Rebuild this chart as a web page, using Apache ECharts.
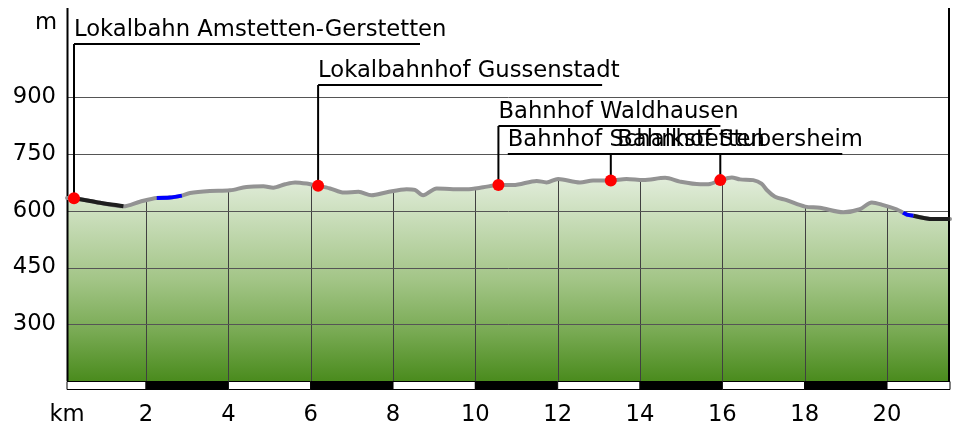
<!DOCTYPE html>
<html>
<head>
<meta charset="utf-8">
<title>Höhenprofil Lokalbahn Amstetten-Gerstetten</title>
<script src="https://cdn.jsdelivr.net/npm/echarts@6/dist/echarts.min.js"></script>
<style>
  html, body { margin: 0; padding: 0; background: #fff; }
  #chart { width: 953px; height: 428px; }
</style>
</head>
<body>
<div id="chart"></div>
<script>
// height profile: distance in km, height in m
const profileKm = [0.08, 0.25, 0.64, 0.88, 1.45, 1.85, 2.26, 2.58, 2.87, 3.07, 3.55, 4.04, 4.44, 4.85, 5.09,
    5.38, 5.62, 5.90, 6.18, 6.47, 6.81, 7.16, 7.48, 7.85, 8.33, 8.53, 8.73, 9.06, 9.46, 9.79, 10.19, 10.56,
    10.92, 11.49, 11.73, 12.01, 12.54, 12.86, 13.29, 13.67, 14.08, 14.61, 14.97, 15.46, 15.70, 15.95, 16.23,
    16.43, 16.75, 16.95, 17.08, 17.28, 17.56, 18.01, 18.37, 18.94, 19.34, 19.63, 19.91, 20.23, 20.39, 20.48,
    20.64, 21.12, 21.53];
const profileElev = [634, 633, 626, 621, 612, 624, 634, 635, 640, 647, 652, 654, 663, 665, 661,
    670, 675, 672, 666, 659, 648, 650, 641, 649, 657, 655, 641, 659, 657, 657, 662, 668,
    668, 679, 675, 684, 675, 680, 680, 684, 681, 687, 677, 670, 671, 681, 688,
    683, 681, 672, 655, 637, 628, 611, 608, 596, 604, 622, 615, 604, 595, 590,
    587, 578, 578];

const stationNames = ["Lokalbahn Amstetten-Gerstetten", "Lokalbahnhof Gussenstadt", "Bahnhof Waldhausen",
    "Bahnhof Schalkstetten", "Bahnhof Stubersheim"];
const stationKm = [0.25, 6.18, 10.56, 13.29, 15.95];
const stationElev = [633, 666, 668, 680, 681];

// stretches of the line drawn in another colour
const blackRanges = [[0.25, 1.45], [20.64, 21.53]];
const blueRanges = [[2.26, 2.87], [20.39, 20.64]];

const kmLabels = [0.08, 2, 4, 6, 8, 10, 12, 14, 16, 18, 20];
const gridKm = [2, 4, 6, 8, 10, 12, 14, 16, 18, 20];
const gridElev = [300, 450, 600, 750, 900];
const kmBands = [[0.08, 2], [2, 4], [4, 6], [6, 8], [8, 10], [10, 12], [12, 14], [14, 16], [16, 18], [18, 20], [20, 21.53]];

const KM_MIN = 0.08, KM_MAX = 21.53;
const ELEV_MIN = 150, ELEV_MAX = 1136;

// label rows (px from top), shift of the label start from its station, underline length
const labelLayout = [
    {row: 44, dx: 0, len: 346},
    {row: 85, dx: 0, len: 284},
    {row: 126, dx: 0, len: 222},
    {row: 154, dx: -103, len: 240},
    {row: 154, dx: -103, len: 225}
];

const fontFamily = "DejaVu Sans";
const fontSize = 22.7;
const FONT = `${fontSize}px "${fontFamily}"`;

const profile = profileKm.map((km, i) => [km, profileElev[i]]);

function segment(range) {
    return profile.filter(p => p[0] >= range[0] - 1e-6 && p[0] <= range[1] + 1e-6);
}

const lineBase = {
    type: "line",
    data: profile,
    smooth: 0.3,
    showSymbol: false,
    silent: true
};

function vLines(params, api) {
    const p0 = api.coord([api.value(0), ELEV_MIN]);
    const p1 = api.coord([api.value(0), ELEV_MAX]);
    const x = Math.round(p0[0]) + 0.5;
    return {type: "line", shape: {x1: x, y1: p0[1], x2: x, y2: p1[1]}, style: {stroke: "#404040", lineWidth: 1}};
}
function hLines(params, api) {
    const p0 = api.coord([KM_MIN, api.value(1)]);
    const p1 = api.coord([KM_MAX, api.value(1)]);
    const y = Math.round(p0[1]) + 0.5;
    return {type: "line", shape: {x1: p0[0], y1: y, x2: p1[0], y2: y}, style: {stroke: "#555", lineWidth: 1}};
}
function borders(params, api) {
    const p0 = api.coord([api.value(0), ELEV_MIN]);
    const p1 = api.coord([api.value(0), ELEV_MAX]);
    const x = params.dataIndex === 0 ? Math.round(p0[0]) + 0.5 : Math.round(p0[0]) - 1;
    return {type: "line", shape: {x1: x, y1: p0[1], x2: x, y2: p1[1]}, style: {stroke: "#000", lineWidth: 2}};
}
function stations(params, api) {
    const i = params.dataIndex;
    const lay = labelLayout[i];
    const p = api.coord([api.value(0), api.value(1)]);
    const x0 = p[0] + lay.dx;
    return {
        type: "group",
        children: [
            {type: "line", shape: {x1: p[0], y1: p[1], x2: p[0], y2: lay.row}, style: {stroke: "#000", lineWidth: 2}},
            {type: "line", shape: {x1: x0, y1: lay.row, x2: x0 + lay.len, y2: lay.row}, style: {stroke: "#000", lineWidth: 2}},
            {type: "text", x: x0, y: lay.row - 14,
                style: {text: stationNames[i], fill: "#000", font: FONT, align: "left", verticalAlign: "middle"}},
            {type: "circle", shape: {cx: p[0], cy: p[1], r: 6}, style: {fill: "#ff0000"}}
        ]
    };
}
function kmBar(params, api) {
    const p0 = api.coord([api.value(0), 0]);
    const p1 = api.coord([api.value(2), 1]);
    const y = Math.round(p1[1]) + 0.5;
    return {
        type: "rect",
        shape: {x: p0[0], y: y, width: p1[0] - p0[0], height: Math.round(p0[1]) - Math.round(p1[1])},
        style: {fill: params.dataIndex % 2 ? "#000" : "#fff", stroke: "#000", lineWidth: 1}
    };
}

const chart = echarts.init(document.getElementById("chart"));
const textStyle = {color: "#000", fontFamily: fontFamily, fontSize: fontSize};

chart.setOption({
    animation: false,
    grid: [
        {left: 67, right: 3, top: 8, bottom: 47},
        {left: 67, right: 3, top: 381, height: 8}
    ],
    xAxis: [{
        type: "value",
        min: KM_MIN,
        max: KM_MAX,
        axisLine: {show: false},
        axisTick: {show: false},
        splitLine: {show: false},
        axisLabel: {
            ...textStyle,
            customValues: kmLabels,
            showMinLabel: true,
            margin: 22.5,
            formatter: v => v < 1 ? "km" : String(v)
        }
    }, {
        gridIndex: 1, type: "value", min: KM_MIN, max: KM_MAX, show: false
    }],
    yAxis: [{
        type: "value",
        min: ELEV_MIN,
        max: ELEV_MAX,
        interval: 150,
        name: "m",
        nameLocation: "end",
        nameGap: -15,
        nameTextStyle: {...textStyle, align: "right", verticalAlign: "middle", padding: [0, 10, 0, 0]},
        axisLine: {show: false},
        axisTick: {show: false},
        splitLine: {show: false},
        axisLabel: {
            ...textStyle,
            margin: 11,
            padding: [3, 0, 0, 0],
            formatter: v => (v >= 300 && v <= 900) ? String(v) : ""
        }
    }, {
        gridIndex: 1, type: "value", min: 0, max: 1, show: false
    }],
    series: [
        {
            ...lineBase, z: 1,
            lineStyle: {width: 0},
            areaStyle: {
                opacity: 1,
                color: new echarts.graphic.LinearGradient(0, 0, 0, 1, [
                    {offset: 0, color: "#e2eddb"},
                    {offset: 0.5, color: "#a3c587"},
                    {offset: 0.75, color: "#7aab55"},
                    {offset: 1, color: "#4a8b1d"}
                ])
            }
        },
        {type: "custom", z: 2, silent: true, data: gridKm.map(k => [k, ELEV_MIN]), renderItem: vLines},
        {...lineBase, z: 3, lineStyle: {width: 0}, areaStyle: {color: "#fff", opacity: 1, origin: "end"}},
        {type: "custom", z: 4, silent: true, data: gridElev.map(v => [KM_MIN, v]), renderItem: hLines},
        {type: "custom", z: 4, silent: true, data: [[KM_MIN, ELEV_MIN], [KM_MAX, ELEV_MIN]], renderItem: borders},
        {...lineBase, z: 5, lineStyle: {color: "#939393", width: 4, cap: "round", join: "round"}},
        ...blackRanges.map(r => ({...lineBase, z: 6, data: segment(r), lineStyle: {color: "#1e1e1e", width: 4}})),
        ...blueRanges.map(r => ({...lineBase, z: 6, data: segment(r), lineStyle: {color: "#0000ff", width: 4}})),
        {type: "custom", z: 7, silent: true, data: stationKm.map((k, i) => [k, stationElev[i]]), renderItem: stations},
        {
            type: "custom", xAxisIndex: 1, yAxisIndex: 1, silent: true,
            data: kmBands.map(b => [b[0], 0, b[1]]), renderItem: kmBar
        }
    ]
});
</script>
</body>
</html>
